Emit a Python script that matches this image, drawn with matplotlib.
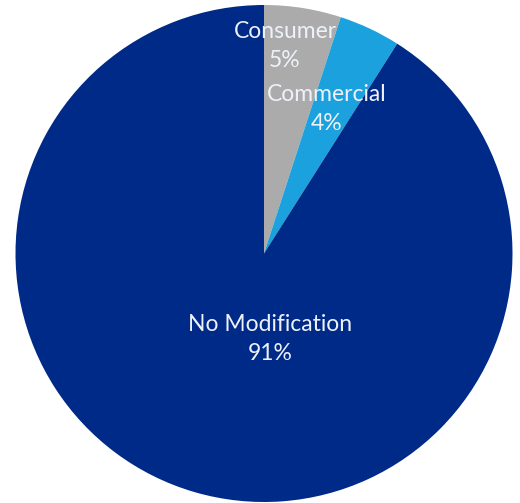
import matplotlib
matplotlib.use("Agg")
import matplotlib.pyplot as plt

categories = ["Consumer", "Commercial", "No Modification"]
shares = [5, 4, 91]
colors = ["#ABABAB", "#1BA1DD", "#002A88"]

W, H = 520, 503
fig = plt.figure(figsize=(W / 100, H / 100), dpi=100)
ax = fig.add_axes([0, 0, 1, 1])

cx, cy, r = 264, H - 253.5, 248.5
ax.pie(shares, colors=colors, startangle=90, counterclock=False,
       center=(cx, cy), radius=r, frame=True,
       wedgeprops=dict(linewidth=0))
ax.set_xlim(0, W)
ax.set_ylim(0, H)
ax.set_aspect("equal")
ax.axis("off")

# label anchor points (pixel coords from the top-left)
label_pos = [(285, 46), (327, 109), (270, 339)]
for name, val, (x, y) in zip(categories, shares, label_pos):
    ax.text(x, H - y, f"{name}\n{val}%", ha="center", va="center",
            color="#EEF2F8", fontsize=16.5, family="Lato",
            linespacing=1.5)

fig.savefig("out.png", dpi=100)
